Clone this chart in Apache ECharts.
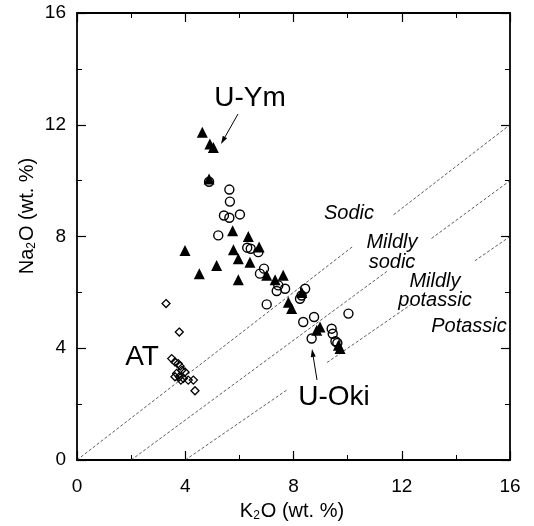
<!DOCTYPE html>
<html>
<head>
<meta charset="utf-8">
<script src="https://cdn.jsdelivr.net/npm/echarts@6/dist/echarts.min.js"></script>
<style>
  html, body { margin: 0; padding: 0; background: #fff; }
  #chart { width: 534px; height: 526px; }
</style>
</head>
<body>
<div id="chart"></div>
<script>
// U-Ym (filled triangles) [K2O, Na2O]
var uYm = [
  [4.63, 11.73], [4.91, 11.31], [5.04, 11.19], [4.88, 10.06],
  [5.75, 8.21], [6.33, 8.0], [3.99, 7.5], [5.78, 7.53], [6.73, 7.62],
  [5.96, 7.2], [6.39, 7.08], [5.16, 6.96], [4.52, 6.67], [5.96, 6.45],
  [7.01, 6.61], [7.32, 6.45], [7.62, 6.61], [7.81, 5.65], [7.93, 5.42],
  [8.31, 6.0], [8.98, 4.76], [8.86, 4.64], [9.66, 4.11], [9.72, 3.99]
];
// U-Oki (open circles)
var uOki = [
  [4.88, 9.96], [5.63, 9.68], [5.65, 9.25], [5.43, 8.75], [5.63, 8.67],
  [6.02, 8.79], [5.22, 8.04], [6.29, 7.6], [6.42, 7.56], [6.7, 7.44],
  [6.91, 6.85], [6.76, 6.67], [7.44, 6.25], [7.69, 6.13], [7.38, 6.05],
  [7.01, 5.57], [8.43, 6.13], [8.3, 5.89], [8.24, 5.77], [10.03, 5.24],
  [8.36, 4.94], [8.76, 5.12], [8.67, 4.35], [9.41, 4.7], [9.45, 4.52],
  [9.62, 4.19], [9.55, 4.25]
];
// AT (open diamonds)
var at = [
  [3.29, 5.6], [3.78, 4.58], [3.5, 3.63], [3.62, 3.51], [3.74, 3.45],
  [3.81, 3.36], [3.87, 3.21], [3.99, 3.15], [3.68, 3.1], [3.62, 2.98],
  [3.78, 2.98], [3.93, 2.92], [3.84, 2.86], [4.11, 2.86], [4.3, 2.86],
  [4.36, 2.48]
];
// boundary lines, split where the labels sit
var sodicSegs = [[[0, 0], [10.2, 7.65]], [[11.7, 8.78], [16, 12]]];
var mildSodicSegs = [[[2, 0], [11.45, 6.75]], [[13.1, 7.93], [16, 10]]];
var mildPotSegs = [[[4, 0], [7.76, 2.51]], [[9.24, 3.49], [12.38, 5.59]], [[14.7, 7.13], [16, 8]]];

var font = "'Liberation Sans', Arial, sans-serif";
var black = '#000';

var series = [];
[sodicSegs, mildSodicSegs, mildPotSegs].forEach(function (segs) {
  segs.forEach(function (seg) {
    series.push({
      type: 'line',
      data: seg,
      symbol: 'none',
      silent: true,
      z: 1,
      lineStyle: { color: '#333', width: 0.8, type: [3, 2] }
    });
  });
});
series.push({
  type: 'scatter', name: 'AT', data: at, symbol: 'diamond', symbolSize: 8, z: 3,
  itemStyle: { color: 'rgba(0,0,0,0)', borderColor: black, borderWidth: 1.3, opacity: 1 }
});
series.push({
  type: 'scatter', name: 'U-Oki', data: uOki, symbol: 'circle', symbolSize: 9, z: 3,
  itemStyle: { color: 'rgba(0,0,0,0)', borderColor: black, borderWidth: 1.4, opacity: 1 }
});
series.push({
  type: 'scatter', name: 'U-Ym', data: uYm, symbol: 'triangle', symbolSize: 11, z: 4,
  itemStyle: { color: black, opacity: 1 }
});

function axisBase(pos, showLabel) {
  return {
    type: 'value', position: pos, min: 0, max: 16, interval: 4,
    axisLine: { show: true, onZero: false, lineStyle: { color: black, width: 1.8 } },
    axisTick: { show: true, inside: true, length: 9, lineStyle: { color: black, width: 1.2 } },
    minorTick: { show: true, splitNumber: 2, length: 5, lineStyle: { color: black, width: 1 } },
    splitLine: { show: false },
    axisLabel: { show: showLabel, color: black, fontSize: 19, fontFamily: font, margin: 12 }
  };
}
var xBottom = axisBase('bottom', true);
xBottom.axisLabel.margin = 17;
var yLeft = axisBase('left', true);
yLeft.axisLabel.margin = 11;

var rich = {
  n: { fontSize: 20, fontFamily: font, color: black },
  s: { fontSize: 12, fontFamily: font, color: black, padding: [9, 1, 0, 0] }
};
var zoneStyle = { fontSize: 20, fontStyle: 'italic', fontFamily: font, fill: black, align: 'center', verticalAlign: 'middle' };
function zone(x, y, txt) {
  return { type: 'text', x: x, y: y, z: 10, style: Object.assign({ text: txt }, zoneStyle) };
}
function big(x, y, txt) {
  return { type: 'text', x: x, y: y, z: 10, style: { text: txt, fontSize: 28, fontFamily: font, fill: black, align: 'center', verticalAlign: 'middle' } };
}
function arrow(x1, y1, x2, y2) {
  var a = Math.atan2(y2 - y1, x2 - x1), L = 8, W = 2.5;
  var bx = x2 - L * Math.cos(a), by = y2 - L * Math.sin(a);
  var px = -Math.sin(a) * W, py = Math.cos(a) * W;
  return [
    { type: 'line', z: 10, shape: { x1: x1, y1: y1, x2: bx, y2: by }, style: { stroke: black, lineWidth: 1 } },
    { type: 'polygon', z: 10, shape: { points: [[x2, y2], [bx + px, by + py], [bx - px, by - py]] }, style: { fill: black } }
  ];
}

var graphics = [
  zone(349, 213, 'Sodic'),
  zone(392, 242, 'Mildly'), zone(392, 262, 'sodic'),
  zone(435, 281, 'Mildly'), zone(435, 300, 'potassic'),
  zone(469, 326, 'Potassic'),
  big(250, 98, 'U-Ym'),
  big(334, 397, 'U-Oki'),
  big(142, 357, 'AT'),
  {
    type: 'text', x: 27, y: 216, rotation: Math.PI / 2, z: 10,
    style: { text: '{n|Na}{s|2}{n|O (wt. %)}', rich: rich, align: 'center', verticalAlign: 'middle' }
  },
  {
    type: 'text', x: 292, y: 511, z: 10,
    style: { text: '{n|K}{s|2}{n|O (wt. %)}', rich: rich, align: 'center', verticalAlign: 'middle' }
  }
].concat(arrow(238, 114, 221, 144)).concat(arrow(317, 380, 312, 349));

var chart = echarts.init(document.getElementById('chart'));
chart.setOption({
  backgroundColor: '#fff',
  animation: false,
  grid: { left: 77, right: 24, top: 13, bottom: 66, containLabel: false },
  xAxis: [xBottom, axisBase('top', false)],
  yAxis: [yLeft, axisBase('right', false)],
  series: series,
  graphic: graphics
});
</script>
</body>
</html>
